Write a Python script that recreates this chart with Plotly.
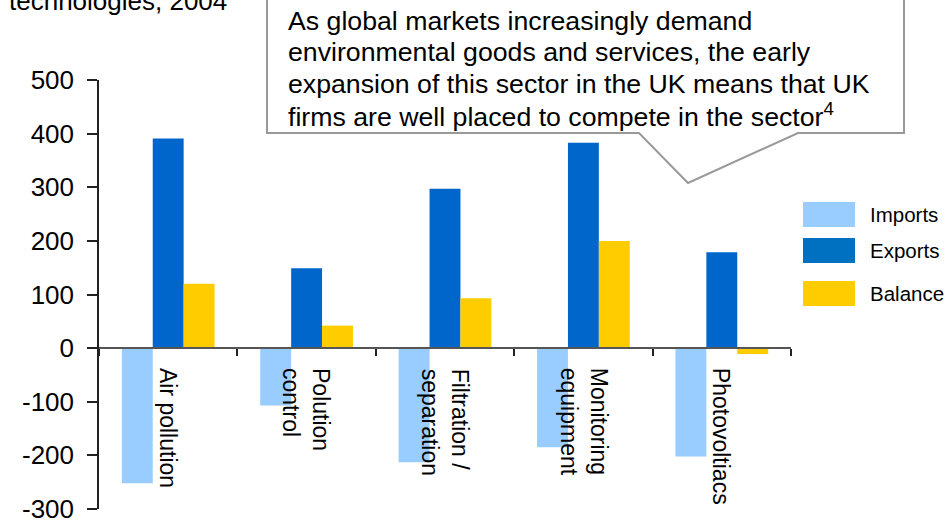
import plotly.graph_objects as go

# ---- data ----
categories = ["Air pollution", "Polution control", "Filtration / separation",
              "Monitoring equipment", "Photovoltiacs"]
category_labels = ["Air pollution", "Polution<br>control", "Filtration /<br>separation",
                   "Monitoring<br>equipment", "Photovoltiacs"]
series_names = ["Imports", "Exports", "Balance"]
imports = [-252, -107, -213, -185, -202]
exports = [391, 149, 297, 383, 179]
balance = [120, 42, 93, 200, -11]
y_tickvals = [-300, -200, -100, 0, 100, 200, 300, 400, 500]
y_ticktext = ["-300", "-200", "-100", "0", "100", "200", "300", "400", "500"]
title_text = "technologies, 2004<sup>3</sup>"
callout_lines = [
    "As global markets increasingly demand",
    "environmental goods and services, the early",
    "expansion of this sector in the UK means that UK",
    "firms are well placed to compete in the sector<sup>4</sup>",
]

colors = ["#99CCFF", "#0066CC", "#FFCC00"]
legend_colors = ["#99CCFF", "#0070C0", "#FFCC00"]
FONT = "Liberation Sans, Arial, sans-serif"

W, H = 949, 520
ML, MR, MT, MB = 99, 158, 80, 11
PW = W - ML - MR
PH = H - MT - MB


def X(px):
    return (px - ML) / PW


def Y(py):
    return (H - MB - py) / PH


fig = go.Figure()
for name, vals, col in zip(series_names, [imports, exports, balance], colors):
    fig.add_trace(go.Bar(x=categories, y=vals, name=name, marker_color=col,
                         marker_line_width=0, showlegend=False))

fig.update_layout(
    width=W, height=H,
    margin=dict(l=ML, r=MR, t=MT, b=MB, autoexpand=False),
    paper_bgcolor="white", plot_bgcolor="white",
    barmode="group", bargap=0.33, bargroupgap=0,
    font=dict(family=FONT, color="black"),
    xaxis=dict(
        anchor="free", position=300 / 800, showline=True, linecolor="#555555",
        linewidth=2, ticks="outside", tickson="boundaries", ticklen=7,
        tickcolor="#222222", tickwidth=1.5, showticklabels=False, showgrid=False,
        zeroline=False, layer="above traces", automargin=False,
    ),
    yaxis=dict(
        range=[-300, 500], tickvals=y_tickvals, ticktext=y_ticktext,
        showline=True, linecolor="#222222", linewidth=1.5, ticks="outside",
        ticklen=10, tickcolor="#222222", tickwidth=1.5, showgrid=False,
        zeroline=False, tickfont=dict(size=26, color="black"), ticklabelstandoff=8,
        ticklabeloverflow="allow", automargin=False,
    ),
)

annotations = []
# category labels (rotated)
for cat, lab in zip(categories, category_labels):
    annotations.append(dict(
        x=cat, y=0, xref="x", yref="y", text=lab, textangle=90,
        showarrow=False, xanchor="center", yanchor="top", yshift=-18,
        align="left", font=dict(size=23, color="black", family=FONT),
    ))

# title (cut off at top)
annotations.append(dict(
    x=X(7), y=Y(-1), xref="paper", yref="paper", text=title_text,
    showarrow=False, xanchor="left", yanchor="middle",
    font=dict(size=26, color="black", family=FONT),
))

# callout box
shape_path = "M {} {} L {} {} L {} {} L {} {} L {} {} L {} {} L {} {} Z".format(
    X(267), Y(-10), X(267), Y(133), X(639), Y(133), X(688), Y(183),
    X(798), Y(133), X(904), Y(133), X(904), Y(-10))
shapes = [dict(type="path", path=shape_path, xref="paper", yref="paper",
               fillcolor="white", line=dict(color="#999999", width=2), layer="above")]

callout_centers = [20.5, 52, 84, 115]
for line, cy in zip(callout_lines, callout_centers):
    annotations.append(dict(
        x=X(286), y=Y(cy), xref="paper", yref="paper", text=line,
        showarrow=False, xanchor="left", yanchor="middle",
        font=dict(size=26.7, color="black", family=FONT),
    ))

# custom legend
legend_tops = [202, 238, 281]
for name, col, top in zip(series_names, legend_colors, legend_tops):
    shapes.append(dict(type="rect", xref="paper", yref="paper",
                       x0=X(803), x1=X(855), y0=Y(top), y1=Y(top + 25),
                       fillcolor=col, line=dict(width=0)))
    annotations.append(dict(
        x=X(868), y=Y(top + 12.5), xref="paper", yref="paper", text=name,
        showarrow=False, xanchor="left", yanchor="middle",
        font=dict(size=20.5, color="black", family=FONT),
    ))

fig.update_layout(annotations=annotations, shapes=shapes)
fig.write_html("out.html",
               config={"displayModeBar": False},
               post_script="document.body.style.margin='0px';"
                           "document.body.style.overflow='hidden';")
